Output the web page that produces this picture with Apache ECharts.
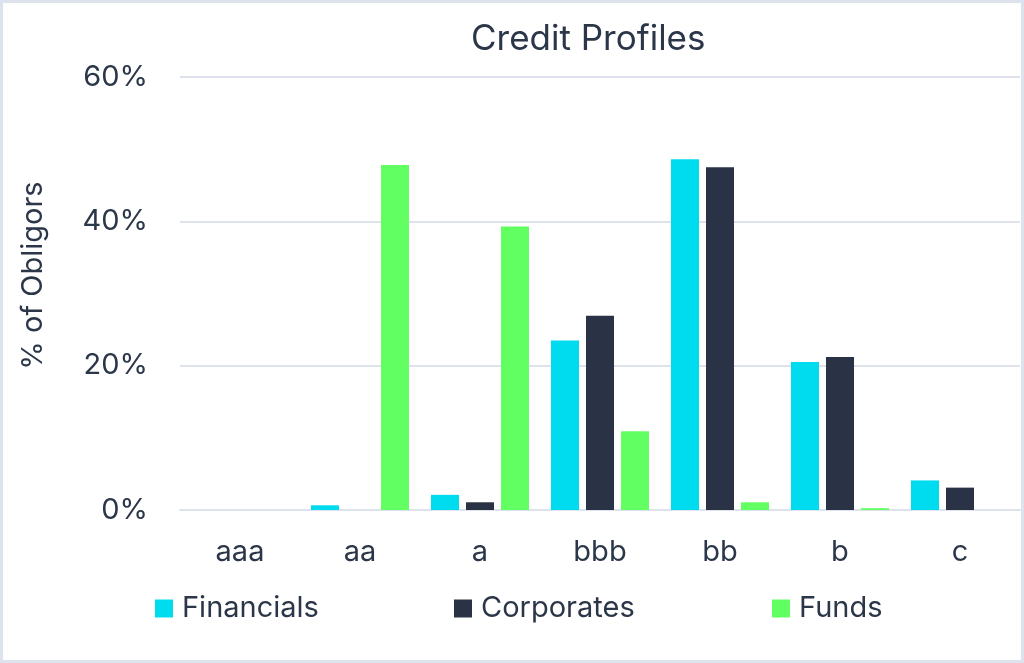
<!DOCTYPE html>
<html>
<head>
<meta charset="utf-8">
<script src="https://cdn.jsdelivr.net/npm/echarts@6/dist/echarts.min.js"></script>
<style>
  html, body { margin: 0; padding: 0; background: #fff; }
  #chart { width: 1024px; height: 663px; box-sizing: border-box; border: 3px solid #dde3ec; }
</style>
</head>
<body>
<div id="chart"></div>
<script>
// ratings on the x axis
const categories = ['aaa', 'aa', 'a', 'bbb', 'bb', 'b', 'c'];
// share of obligors per rating (fraction)
const financials = [0, 0.0065, 0.021, 0.235, 0.486, 0.205, 0.041];
const corporates = [0, 0, 0.0107, 0.269, 0.475, 0.212, 0.031];
const funds = [0, 0.478, 0.393, 0.109, 0.0107, 0.0025, 0];
const yTicks = [0, 0.2, 0.4, 0.6];

const textColor = '#2b3648';
const font = 'Inter';

const chart = echarts.init(document.getElementById('chart'), null, { width: 1018, height: 657 });

// one legend per item so each sits where the original has it
function legendAt(name, left) {
  return {
    data: [name],
    left: left,
    top: 586,
    itemWidth: 18,
    itemHeight: 18,
    icon: 'rect',
    textStyle: { fontFamily: font, fontSize: 29, color: textColor, padding: [0, 0, 0, 4] }
  };
}

const option = {
  backgroundColor: '#ffffff',
  animation: false,
  title: {
    text: 'Credit Profiles',
    left: 463,
    top: 14,
    textStyle: { fontFamily: font, fontSize: 35, fontWeight: 'normal', color: textColor }
  },
  legend: [
    legendAt('Financials', 147),
    legendAt('Corporates', 446),
    legendAt('Funds', 764)
  ],
  grid: { left: 177, right: 1, top: 74, bottom: 150 },
  xAxis: {
    type: 'category',
    data: categories,
    axisTick: { show: false },
    axisLine: { lineStyle: { color: '#dde2ec', width: 2 } },
    axisLabel: { margin: 28, fontFamily: font, fontSize: 29, color: textColor }
  },
  yAxis: {
    type: 'value',
    min: yTicks[0],
    max: yTicks[yTicks.length - 1],
    interval: 0.2,
    name: '% of Obligors',
    nameLocation: 'middle',
    nameGap: 132,
    nameTextStyle: { fontFamily: font, fontSize: 29, color: textColor, padding: [0, 0, 0, 36] },
    axisLabel: {
      margin: 32,
      fontFamily: font,
      fontSize: 29,
      color: textColor,
      formatter: v => Math.round(v * 100) + '%'
    },
    splitLine: { lineStyle: { color: '#dde2ec', width: 2 } }
  },
  series: [
    { name: 'Financials', type: 'bar', data: financials, barWidth: 28, barGap: '25%', itemStyle: { color: '#00dcef' } },
    { name: 'Corporates', type: 'bar', data: corporates, barWidth: 28, barGap: '25%', itemStyle: { color: '#293345' } },
    { name: 'Funds', type: 'bar', data: funds, barWidth: 28, barGap: '25%', itemStyle: { color: '#62ff62' } }
  ]
};
chart.setOption(option);
</script>
</body>
</html>
